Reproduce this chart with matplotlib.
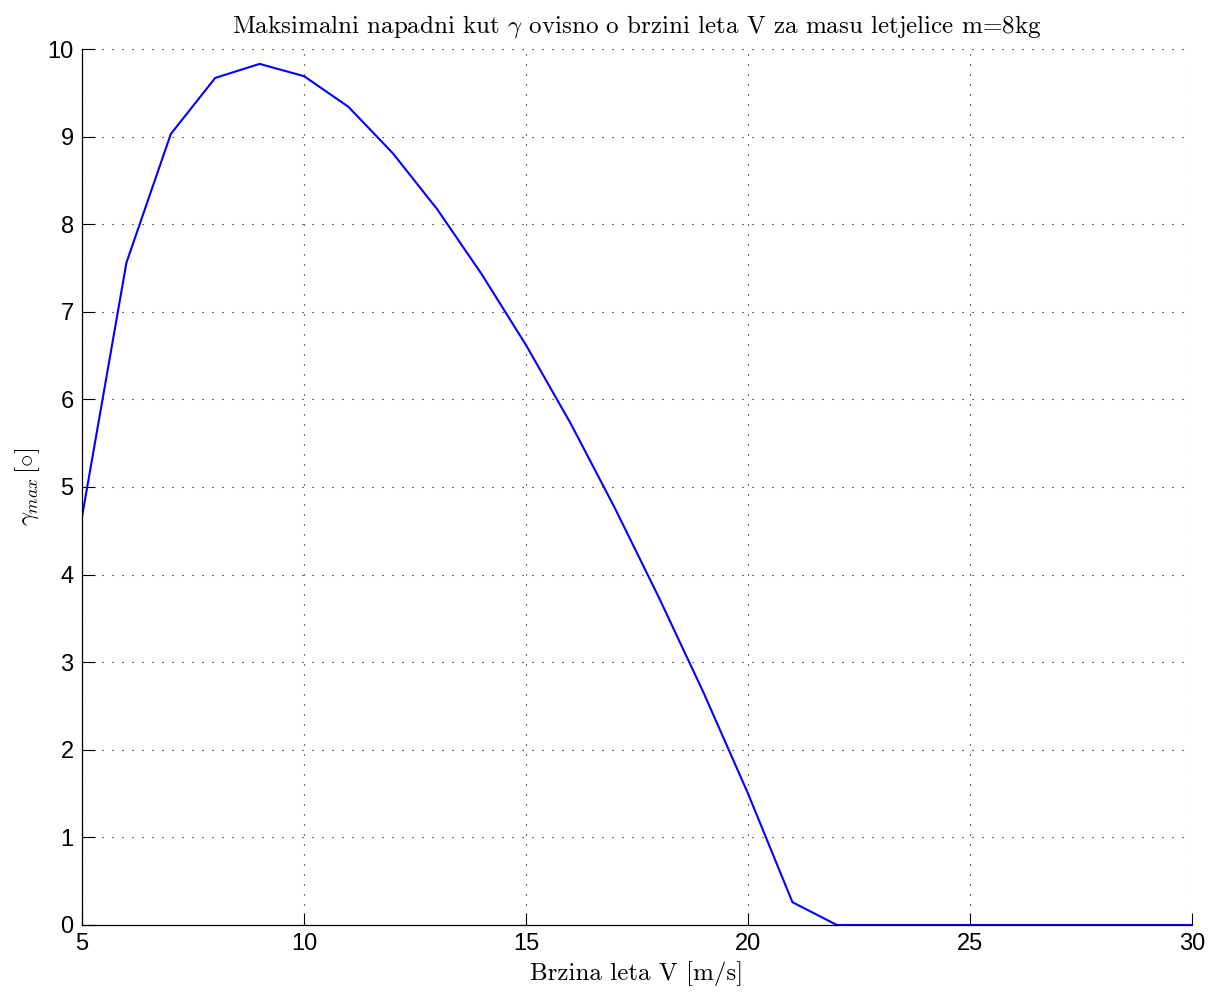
import numpy as np
import matplotlib
matplotlib.use("Agg")
import matplotlib.pyplot as plt

# brzina leta V [m/s] i maksimalni kut gamma_max [deg], ocitano sa slike
V = [5, 6, 7, 8, 9, 10, 11, 12, 13, 14, 15, 16, 17, 18,
     19, 20, 21, 22, 23, 24, 25, 26, 27, 28, 29, 30]
gamma_max = [4.66, 7.56, 9.03, 9.67, 9.83, 9.69, 9.34, 8.81, 8.17, 7.43,
             6.62, 5.73, 4.76, 3.73, 2.65, 1.50, 0.26, 0.0, 0.0, 0.0,
             0.0, 0.0, 0.0, 0.0, 0.0, 0.0]

x_ticks = [5, 10, 15, 20, 25, 30]
y_ticks = list(range(0, 11))

plt.rcParams["mathtext.fontset"] = "cm"
plt.rcParams["axes.unicode_minus"] = False
SERIF = "cmr10"
TICKF = "Liberation Sans"

fig = plt.figure(figsize=(12.17, 9.96), dpi=100)
ax = fig.add_axes([0.0674, 0.0713, 0.9795 - 0.0674, 0.9508 - 0.0713])

ax.plot(V, gamma_max, color="#0000ff", linewidth=1.5)

ax.set_xlim(5, 30)
ax.set_ylim(0, 10)
ax.set_xticks(x_ticks)
ax.set_yticks(y_ticks)
ax.set_xticklabels([str(t) for t in x_ticks], fontfamily=TICKF, fontsize=17)
ax.set_yticklabels([str(t) for t in y_ticks], fontfamily=TICKF, fontsize=17)
ax.tick_params(direction="in", length=9, width=0.8, pad=6)

ax.grid(True, linestyle=(0, (1, 8)), color="black", linewidth=0.8)
for side in ("top", "right"):
    ax.spines[side].set_visible(False)
for side in ("left", "bottom"):
    ax.spines[side].set_linewidth(0.9)

ax.set_title(r"Maksimalni napadni kut $\gamma$ ovisno o brzini leta V za masu letjelice m=8kg",
             fontfamily=SERIF, fontsize=18, pad=12)
ax.set_xlabel("Brzina leta V [m/s]", fontfamily=SERIF, fontsize=18, labelpad=4)
ax.set_ylabel(r"$\gamma_{max}\,[\circ]$", fontsize=18, labelpad=4)

fig.savefig("out.png", dpi=100, facecolor="white")
